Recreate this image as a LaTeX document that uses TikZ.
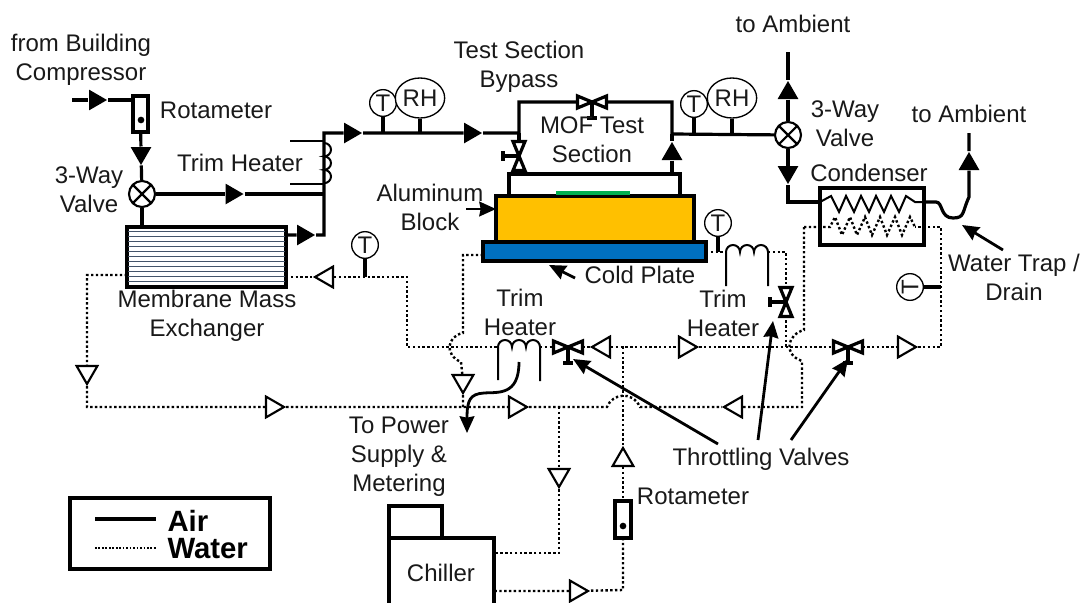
\documentclass[tikz,border=0pt]{standalone}
\usepackage{fontspec}
\setmainfont{Liberation Sans}
\usetikzlibrary{arrows.meta,shapes.geometric,fit}

\tikzset{every picture/.style={line width=0.75pt}}
\tikzset{
  lbl/.style={font=\fontsize{18}{21.75}\selectfont, text=black!90, align=center, inner sep=0pt},
  lgd/.style={font=\fontsize{22}{24}\selectfont\bfseries, anchor=west, inner sep=0pt},
  airline/.style={line width=2.4pt},
  waterline/.style={line width=1.8pt, dash pattern=on 1.8pt off 1.8pt},
  thinline/.style={line width=1.5pt},
  pointer/.style={line width=2.1pt, -{Stealth[inset=1pt,length=12.5pt,width=11pt]}},
  devicebox/.style={draw, line width=2.6pt, fill=white, inner sep=0pt, outer sep=0pt},
  airtip/.style={regular polygon, regular polygon sides=3, fill=black, inner sep=0pt, minimum size=18pt},
  watertip/.style={regular polygon, regular polygon sides=3, draw, fill=white, line width=1.6pt, inner sep=0pt, minimum size=18pt},
  goright/.style={shape border rotate=-90},
  goleft/.style={shape border rotate=90},
  godown/.style={shape border rotate=180},
  threeway/.style={circle, draw, fill=white, line width=1.6pt, inner sep=0pt, minimum size=19.5pt,
    path picture={\draw[line width=1.6pt] (path picture bounding box.north west) -- (path picture bounding box.south east)
      (path picture bounding box.north east) -- (path picture bounding box.south west);}},
  sensor/.style={lbl, circle, draw, fill=white, line width=1pt, minimum size=20pt},
  rhsensor/.style={lbl, ellipse, draw, fill=white, line width=1pt, minimum width=37pt, minimum height=30pt},
  bowvalve/.pic={
    \draw[airline] (0,0) -- (0,-16) (-5,-16) -- (5,-16);
    \draw[line width=2.4pt, fill=white, line join=miter] (-14.5,-6) -- (14.5,6) -- (14.5,-6) -- (-14.5,6) -- cycle;
  }
}

\begin{document}
\begin{tikzpicture}[x=0.75pt,y=0.75pt,yscale=-1,xscale=1]
\useasboundingbox (0,0) rectangle (1082,603);

%Devices
\node (membrane) [devicebox, fit={(127,227) (286,287)}] {};
\foreach \y in {231.5,236.5,...,284} {\draw [line width=0.7pt, color={rgb, 255:red, 68; green, 84; blue, 106 }] (128,\y) -- (285,\y);}
\node (rotaup) [devicebox, fit={(133,96) (148,132)}] {};
\node (rotalow) [devicebox, fit={(615,501) (631,538)}] {};
\node (dotup) [circle, fill=black, inner sep=0pt, minimum size=5pt] at (141,120) {};
\node (dotlow) [circle, fill=black, inner sep=0pt, minimum size=5pt] at (623,526) {};
\node (testbox) [draw, line width=2.6pt, inner sep=0pt, fit={(509,174) (680,210)}] {};
\node (block) [devicebox, fill={rgb, 255:red, 255; green, 192; blue, 0 }, fit={(496,196) (694,242)}] {};
\node (strip) [fill={rgb, 255:red, 0; green, 176; blue, 80 }, inner sep=0pt, fit={(556,191) (630,195)}] {};
\node (coldplate) [devicebox, fill={rgb, 255:red, 0; green, 112; blue, 192 }, fit={(483,242) (706,261)}] {};
\node (condenser) [devicebox, fit={(820,188) (924,245)}] {};
\node (chillertop) [devicebox, fit={(389,506) (442,538)}] {};
\node (legend) [devicebox, line width=3pt, fit={(70,498) (270,569)}] {};

%Flow Tips
\node (tipa) [airtip, goright] at (95,100) {};
\node (tipb) [airtip, godown] at (141,153) {};
\node (tipc) [airtip, goright] at (231.5,194) {};
\node (tipd) [airtip, goright] at (303,235) {};
\node (tipe) [airtip, goright] at (350,133) {};
\node (tipf) [airtip, goright] at (470,133) {};
\node (tipg) [airtip] at (672,154) {};
\node (tiph) [airtip] at (788,93) {};
\node (tipi) [airtip, godown] at (788,172) {};
\node (tipj) [airtip] at (969,164) {};
\node (tipk) [watertip, goleft] at (327,277) {};
\node (tipl) [watertip, godown] at (87,372) {};
\node (tipm) [watertip, goright] at (272,407) {};
\node (tipn) [watertip, goright] at (515,407) {};
\node (tipo) [watertip, goleft] at (736,407) {};
\node (tipp) [watertip, goleft] at (604,347) {};
\node (tipq) [watertip, goright] at (685,347) {};
\node (tipr) [watertip, goright] at (904,347) {};
\node (tips) [watertip, godown] at (463,381) {};
\node (tipt) [watertip] at (623,460) {};
\node (tipu) [watertip, godown] at (559,475) {};
\node (tipv) [watertip, goright] at (576,591) {};

%Valves and Sensors
\node (waya) [threeway] at (142,194) {};
\node (wayb) [threeway] at (788,135) {};
\coordinate (valveby) at (592,102);
\coordinate (valvetest) at (519,156);
\coordinate (valvetrim) at (568,347);
\coordinate (valvecool) at (786,302);
\coordinate (valvecond) at (848,347);
\node (tempa) [sensor] at (383,103) {T};
\node (rha) [rhsensor] at (420,98) {RH};
\node (tempb) [sensor] at (694,104) {T};
\node (rhb) [rhsensor] at (732,98) {RH};
\node (tempc) [sensor] at (718,223) {T};
\node (tempd) [sensor] at (365,245) {T};
\node (tempe) [sensor] at (910,287) {\rotatebox{90}{T}};

%Air Lines
\coordinate (airin) at (72,100);
\coordinate (rotain) at (133,100);
\coordinate (memout) at (286,235);
\coordinate (riser) at (324,235);
\coordinate (riserup) at (324,133);
\coordinate (heatjoin) at (324,194);
\coordinate (bypassa) at (519,133);
\coordinate (bypassb) at (519,102);
\coordinate (bypassc) at (672,102);
\coordinate (bypassd) at (672,134);
\coordinate (ambienta) at (788,52);
\coordinate (condbend) at (788,202);
\coordinate (condin) at (820,202);
\coordinate (condout) at (925,202);
\coordinate (ambientb) at (969,133);
\draw [airline] (airin) -- (tipa) -- (rotain) ;
\draw [airline] (rotaup) -- (tipb) -- (waya) ;
\draw [airline] (waya) -- (membrane.north -| waya) ;
\draw [airline] (waya) -- (tipc) -- (heatjoin) ;
\draw [airline] (memout) -- (tipd) -- (riser) -- (riserup) -- (tipe) -- (tipf) -- (bypassa) -- (bypassb) -- (bypassc) -- (bypassd) -- (wayb) ;
\draw [airline] (bypassa) -- (testbox.north -| bypassa) ;
\draw [airline] (bypassd) -- (tipg) -- (testbox.north -| tipg) ;
\draw [airline] (tempa) -- (tempa |- riserup) ;
\draw [airline] (rha) -- (rha |- riserup) ;
\draw [airline] (tempb) -- (tempb |- bypassd) ;
\draw [airline] (rhb) -- (rhb |- bypassd) ;
\draw [airline] (ambienta) -- (tiph) -- (wayb) ;
\draw [airline] (wayb) -- (tipi) -- (condbend) -- (condin) ;
\draw [airline] (condout) -- (936,202) .. controls (943,202) and (940,218) .. (953,218) .. controls (965,218) and (962,212) .. (969,197) -- (tipj) -- (ambientb) ;
\draw [thinline] (condin) -- (831,196) \foreach \k in {0,...,4} {-- ({839+15*\k},212) -- ({846+15*\k},196)} -- (915,202) -- (condout) ;

%Water Lines
\coordinate (memwaterl) at (127,275);
\coordinate (memwaterr) at (286,277);
\coordinate (loopa) at (87,275);
\coordinate (loopb) at (87,407);
\coordinate (loopc) at (407,277);
\coordinate (loopd) at (407,347);
\coordinate (heatl) at (498,347);
\coordinate (heatr) at (540,347);
\coordinate (platel) at (483,255);
\coordinate (platem) at (463,255);
\coordinate (platen) at (463,407);
\coordinate (jointa) at (623,347);
\coordinate (jointb) at (786,347);
\coordinate (jointc) at (559,407);
\coordinate (jointd) at (623,590);
\coordinate (jointe) at (941,347);
\coordinate (chillout) at (494,591);
\coordinate (chillin) at (494,553);
\coordinate (returna) at (559,553);
\coordinate (plater) at (706,252);
\coordinate (coiltopl) at (726,252);
\coordinate (coiltopr) at (768,252);
\coordinate (coolup) at (786,252);
\coordinate (condl) at (804,227);
\coordinate (condr) at (941,227);
\coordinate (returnb) at (802,407);
\draw [waterline] (memwaterl) -- (loopa) -- (tipl) -- (loopb) -- (tipm) -- (tipn) -- (jointc) -- (607,407) .. controls (612,394) and (632,390) .. (640,407) -- (tipo) ;
\draw [waterline] (memwaterr) -- (tipk) -- (loopc) -- (loopd) -- (heatl) ;
\draw [waterline] (heatr) -- (valvetrim) ;
\draw [waterline] (valvetrim) -- (tipp) -- (jointa) -- (tipq) -- (jointb) -- (valvecond) -- (tipr) -- (jointe) -- (condr) -- (915,227) ;
\draw [waterline] (platel) -- (platem) -- (463,333) .. controls (447,336) and (444,355) .. (461,362) -- (tips) -- (platen) ;
\draw [waterline] (jointa) -- (tipt) -- (rotalow) ;
\draw [waterline] (rotalow) -- (jointd) -- (tipv) -- (chillout) ;
\draw [waterline] (jointc) -- (tipu) -- (returna) -- (chillin) ;
\draw [waterline] (plater) -- (coiltopl) ;
\draw [waterline] (coiltopr) -- (coolup) -- (valvecool) -- (jointb) ;
\draw [waterline] (condl) -- (804,330) .. controls (788,334) and (782,354) .. (802,361) -- (returnb) -- (tipo) ;
\draw [waterline] (condl) -- (830,227) \foreach \k in {0,...,4} {-- ({835+15*\k},217) -- ({842+15*\k},235)} -- (910,217) -- (915,227) ;
\draw [airline] (tempe) -- (tempe -| jointe) ;
\draw [airline] (tempc) -- (tempc |- plater) ;
\draw [airline] (tempd) -- (tempd |- memwaterr) ;

%Heater Coils
\draw [thinline] (290,141) -- (324,141) (290,184) -- (324,184) ;
\draw [thinline] (324,143) arc [start angle=270, end angle=450, x radius=7, y radius=6.7] arc [start angle=270, end angle=450, x radius=7, y radius=6.7] arc [start angle=270, end angle=450, x radius=7, y radius=6.7] ;
\draw [thinline] (498,380) -- (heatl) arc [start angle=180, end angle=360, x radius=7, y radius=7] arc [start angle=180, end angle=360, x radius=7, y radius=7] arc [start angle=180, end angle=360, x radius=7, y radius=7] -- (540,381) ;
\draw [thinline] (726,286) -- (coiltopl) arc [start angle=180, end angle=360, x radius=7, y radius=7] arc [start angle=180, end angle=360, x radius=7, y radius=7] arc [start angle=180, end angle=360, x radius=7, y radius=7] -- (768,286) ;
\draw [pointer] (519,362) .. controls (519,396) and (498,392) .. (484,393) .. controls (470,394) and (467,400) .. (467,433) ;

%Valves
\pic at (valveby) {bowvalve};
\pic [rotate=-90] at (valvetest) {bowvalve};
\pic at (valvetrim) {bowvalve};
\pic [rotate=-90] at (valvecool) {bowvalve};
\pic at (valvecond) {bowvalve};

%Chiller
\coordinate (chilla) at (389,603);
\coordinate (chillb) at (494,603);
\draw [line width=2.6pt] (chilla) |- (chillb |- chillertop.south) -- (chillb) ;

%Pointers
\coordinate (blockptr) at (466,209);
\coordinate (coldptr) at (575,278);
\coordinate (coldtip) at (549,265);
\coordinate (trapptr) at (1003,250);
\coordinate (traptip) at (962,225);
\coordinate (throta) at (718,444);
\coordinate (throtatip) at (573,359);
\coordinate (throtb) at (758,440);
\coordinate (throtbtip) at (773,321);
\coordinate (throtc) at (791,440);
\coordinate (throtctip) at (848,359);
\draw [pointer] (blockptr) -- (block.west |- blockptr) ;
\draw [pointer] (coldptr) -- (coldtip) ;
\draw [pointer] (trapptr) -- (traptip) ;
\draw [pointer] (throta) -- (throtatip) ;
\draw [pointer] (throtb) -- (throtbtip) ;
\draw [pointer] (throtc) -- (throtctip) ;

% Text Node
\node (fromlbl) [lbl] at (81,59.5) {from Building\\Compressor};
\node (rotalbla) [lbl] at (216,110) {Rotameter};
\node (trimlbla) [lbl] at (240,163) {Trim Heater};
\node (waylbla) [lbl] at (89,189.5) {3-Way\\Valve};
\node (memlbl) [lbl] at (207,315.5) {Membrane Mass\\Exchanger};
\node (bypasslbl) [lbl] at (519,67) {Test Section\\Bypass};
\node (moflbl) [lbl] at (592,140) {MOF Test\\Section};
\node (blocklbl) [lbl] at (430,207.5) {Aluminum\\Block};
\node (coldlbl) [lbl] at (640,275) {Cold Plate};
\node (trimlblb) [lbl] at (520,312) {Trim\\Heater};
\node (trimlblc) [lbl] at (723,313) {Trim\\Heater};
\node (ambientlbla) [lbl] at (793,24) {to Ambient};
\node (ambientlblb) [lbl] at (969,114) {to Ambient};
\node (waylblb) [lbl] at (845,123.5) {3-Way\\Valve};
\node (condlbl) [lbl] at (869,173) {Condenser};
\node (traplbl) [lbl] at (1014,277.5) {Water Trap /\\Drain};
\node (powerlbl) [lbl] at (399,456.5) {To Power\\Supply \&\\Metering};
\node (chillerlbl) [lbl] at (441,573) {Chiller};
\node (rotalblb) [lbl] at (693,496) {Rotameter};
\node (throtlbl) [lbl] at (761,459) {Throttling Valves};

%Legend
\coordinate (lgdaira) at (95,519);
\coordinate (lgdairb) at (156,519);
\coordinate (lgdwatera) at (95,548);
\coordinate (lgdwaterb) at (156,548);
\draw [airline] (lgdaira) -- (lgdairb) ;
\draw [line width=1.3pt, dash pattern=on 1.3pt off 1.3pt] (lgdwatera) -- (lgdwaterb) ;
\node (airlbl) [lgd] at (167,521) {Air};
\node (waterlbl) [lgd] at (167,549) {Water};

\end{tikzpicture}
\end{document}
